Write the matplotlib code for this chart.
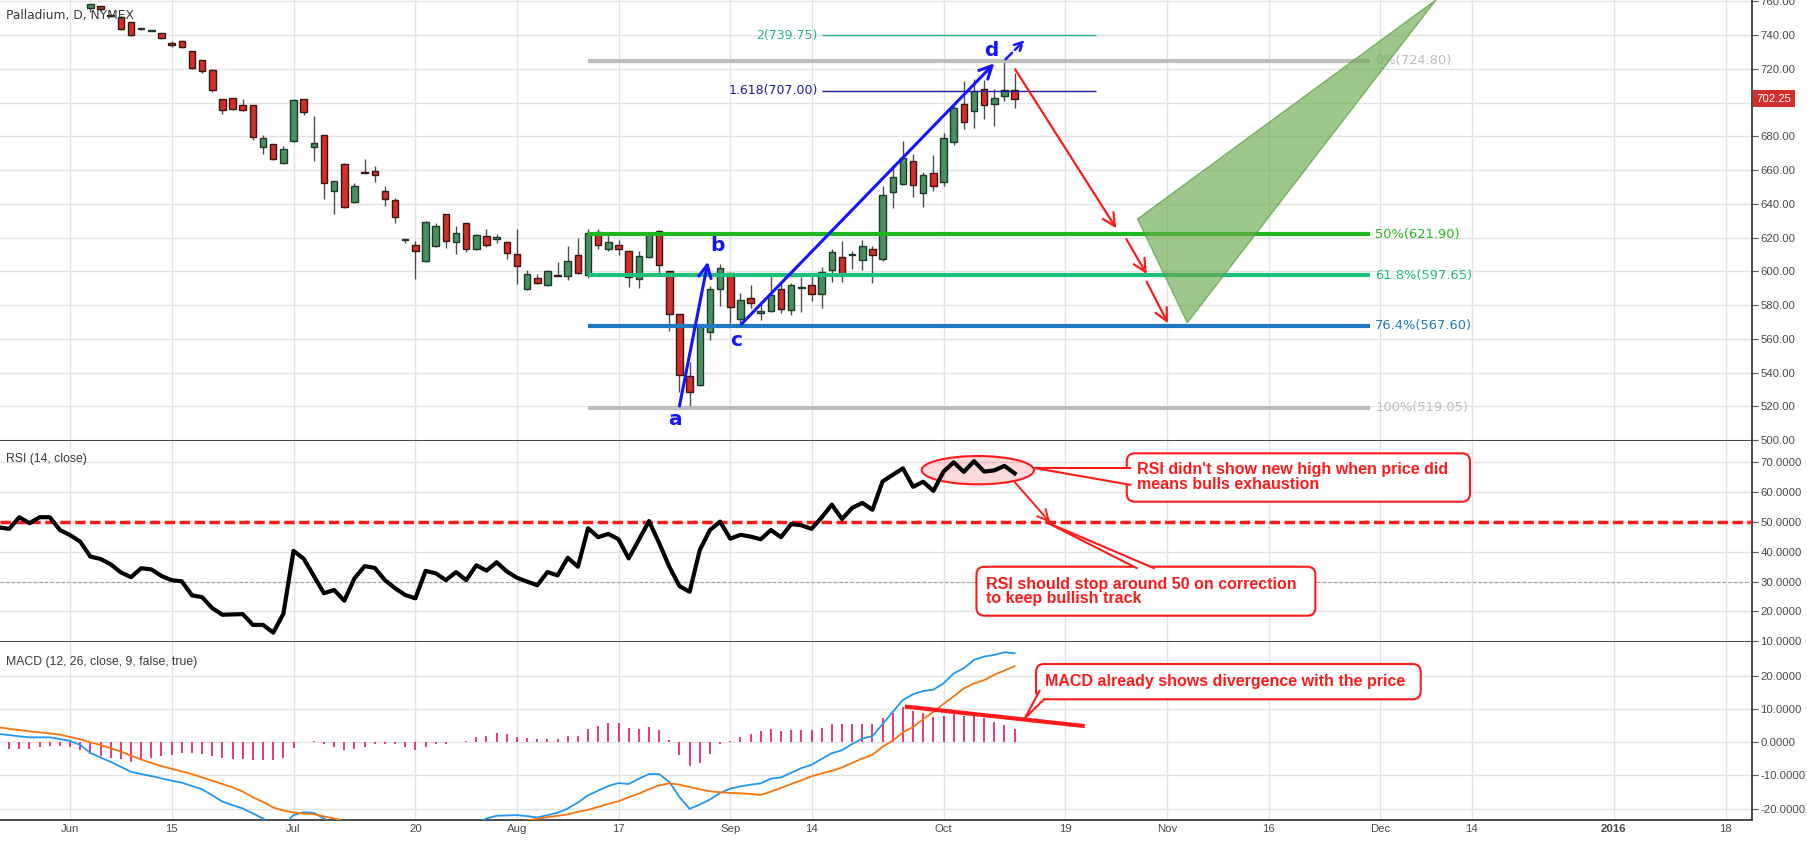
import numpy as np
import matplotlib
matplotlib.use('Agg')
import matplotlib.pyplot as plt
from matplotlib.patches import FancyBboxPatch, Polygon, Ellipse
from matplotlib.transforms import blended_transform_factory

plt.rcParams['axes.unicode_minus'] = False

# ---------------- data ----------------
first_date = '2015-06-01'
holidays = ['2015-07-03', '2015-09-07']

tick_dates = ['2015-06-01', '2015-06-15', '2015-07-01', '2015-07-20', '2015-08-03',
              '2015-08-17', '2015-09-01', '2015-09-14', '2015-10-01', '2015-10-19',
              '2015-11-02', '2015-11-16', '2015-12-01', '2015-12-14', '2016-01-01',
              '2016-01-18']
tick_labels = ['Jun', '15', 'Jul', '20', 'Aug', '17', 'Sep', '14', 'Oct', '19',
               'Nov', '16', 'Dec', '14', '2016', '18']

candle_start = 2  # bar index of the first visible candle (Jun 3)
opens = [755.8, 757.0, 751.8, 750.5, 747.5, 743.3, 742.6, 741.0, 735.1, 736.2,
         730.3, 725.0, 719.1, 701.9, 702.5, 698.4, 698.4, 673.5, 675.2, 664.0,
         677.0, 701.9, 673.5, 680.6, 647.4, 663.4, 640.9, 658.9, 659.2, 647.4,
         642.0, 618.5, 615.4, 605.9, 614.8, 633.8, 617.2, 628.4, 613.0, 620.7,
         618.9, 617.2, 610.1, 589.3, 595.8, 591.7, 597.6, 597.0, 609.5, 598.0,
         623.1, 613.0, 615.4, 611.8, 595.2, 608.3, 623.7, 600.0, 574.5, 537.8,
         532.5, 563.8, 589.3, 598.8, 571.5, 584.0, 575.1, 576.3, 589.3, 576.9,
         590.1, 592.1, 586.7, 601.0, 608.6, 609.9, 606.9, 613.4, 607.5, 646.8,
         651.5, 665.2, 646.2, 658.0, 652.7, 676.4, 698.9, 694.8, 707.8, 698.9,
         703.7, 707.2]
highs = [758.6, 757.4, 752.5, 751.0, 748.0, 743.8, 743.1, 741.2, 736.2, 736.9,
         730.6, 725.3, 719.9, 702.2, 702.8, 702.1, 698.7, 680.7, 675.5, 674.2,
         701.9, 702.2, 692.0, 680.9, 653.6, 664.2, 652.3, 666.5, 662.6, 650.5,
         643.2, 619.0, 618.0, 629.8, 628.6, 634.1, 626.8, 628.7, 621.9, 625.0,
         622.0, 617.5, 625.0, 600.6, 598.4, 600.6, 605.5, 615.0, 619.5, 624.9,
         624.9, 623.1, 618.4, 612.0, 612.0, 623.1, 624.3, 600.3, 574.8, 546.4,
         567.7, 591.1, 604.1, 599.1, 587.0, 591.7, 582.2, 597.6, 594.1, 592.9,
         596.8, 598.0, 602.7, 613.4, 617.7, 612.2, 618.3, 615.2, 650.3, 661.0,
         677.0, 669.3, 658.6, 668.7, 681.7, 699.5, 712.6, 713.8, 713.2, 707.8,
         724.4, 717.3]
lows = [753.8, 754.4, 750.8, 743.0, 739.5, 743.2, 742.5, 737.8, 732.7, 732.5,
        720.0, 717.7, 706.4, 693.4, 695.8, 695.2, 677.6, 669.5, 666.0, 663.8,
        676.8, 692.6, 665.5, 643.0, 634.1, 637.6, 640.6, 658.0, 653.0, 638.9,
        628.8, 617.0, 595.6, 605.6, 614.5, 614.0, 610.4, 611.6, 612.7, 614.6,
        616.6, 607.5, 592.6, 589.0, 592.3, 591.4, 597.0, 595.0, 598.5, 596.2,
        613.0, 611.8, 609.5, 590.5, 589.9, 608.0, 598.2, 564.4, 528.3, 519.2,
        531.9, 559.1, 579.2, 569.2, 569.2, 578.1, 570.9, 576.0, 575.1, 574.0,
        576.0, 582.6, 578.4, 593.8, 593.8, 601.5, 601.0, 593.2, 606.3, 637.3,
        650.9, 643.8, 637.9, 647.4, 650.4, 674.6, 684.5, 685.1, 690.4, 686.3,
        701.1, 697.0]
closes = [758.2, 755.2, 751.2, 743.4, 739.8, 743.6, 742.9, 738.0, 733.9, 732.7,
          720.3, 718.5, 707.2, 695.4, 696.0, 695.4, 679.4, 678.8, 666.3, 672.3,
          701.3, 694.2, 675.8, 652.1, 653.3, 637.9, 650.4, 658.3, 656.9, 642.6,
          631.9, 618.9, 611.8, 629.0, 626.6, 617.8, 622.5, 613.0, 621.3, 615.4,
          620.1, 610.6, 602.9, 598.2, 592.9, 600.0, 597.2, 605.9, 598.8, 622.5,
          615.4, 617.2, 613.0, 596.4, 608.9, 622.5, 603.5, 574.5, 538.4, 528.3,
          567.4, 589.3, 601.8, 578.7, 582.8, 581.0, 576.3, 585.8, 577.5, 591.7,
          590.5, 586.7, 599.8, 611.2, 598.6, 610.3, 615.2, 609.8, 645.0, 655.7,
          666.9, 650.9, 656.9, 650.4, 678.8, 696.6, 688.3, 706.6, 698.4, 702.5,
          707.2, 702.25]
last_price = 702.25

ind_start = -7  # bar index of the first RSI / MACD value
rsi = [48.2, 47.7, 51.6, 49.6, 51.6, 51.6, 47.3, 45.6, 43.4, 38.4,
       37.6, 35.8, 33.1, 31.5, 34.5, 34.1, 31.9, 30.5, 30.1, 25.4,
       24.8, 21.1, 18.9, 19.0, 19.1, 15.5, 15.5, 12.9, 19.2, 40.3,
       37.7, 31.9, 26.1, 27.2, 23.6, 31.1, 35.2, 34.6, 30.5, 27.8,
       25.5, 24.4, 33.6, 32.8, 30.5, 33.2, 30.5, 35.5, 33.7, 36.5,
       33.4, 31.3, 30.0, 28.8, 33.2, 32.1, 38.0, 35.0, 47.9, 44.9,
       46.0, 44.2, 37.8, 44.0, 50.3, 42.9, 35.0, 28.5, 26.6, 40.6,
       47.3, 50.1, 44.4, 45.7, 45.1, 44.2, 47.3, 44.9, 49.3, 48.9,
       47.7, 51.5, 55.8, 51.0, 54.7, 56.4, 54.1, 63.6, 65.8, 68.0,
       61.8, 63.5, 60.4, 66.9, 70.0, 66.8, 70.4, 66.9, 67.3, 68.8,
       66.3]
macd = [2.5, 2.2, 1.8, 1.5, 1.5, 1.5, 1.0, 0.4, -0.8, -3.2,
        -4.6, -5.9, -7.4, -8.9, -9.6, -10.2, -10.9, -11.6, -12.2, -13.2,
        -14.2, -16.0, -17.9, -19.0, -20.0, -21.5, -23.0, -25.0, -25.0, -22.0,
        -21.1, -21.3, -23.0, -25.0, -26.0, -27.0, -27.5, -28.0, -28.5, -29.0,
        -29.5, -30.0, -28.5, -27.5, -27.0, -26.5, -25.5, -24.5, -23.0, -22.2,
        -22.1, -22.0, -22.3, -22.7, -22.0, -21.3, -20.0, -18.2, -16.0, -14.6,
        -13.2, -12.3, -12.6, -11.0, -9.6, -9.6, -12.0, -16.5, -20.1, -18.8,
        -17.3, -15.3, -14.0, -13.3, -12.8, -12.4, -11.0, -10.6, -9.2, -7.8,
        -6.8, -5.0, -3.3, -2.4, -0.5, 1.1, 1.9, 5.5, 9.2, 12.8,
        14.5, 15.5, 15.9, 17.8, 20.8, 22.4, 24.9, 25.9, 26.4, 27.2,
        26.9]
signal = [4.5, 4.1, 3.7, 3.3, 3.0, 2.7, 2.3, 1.6, 0.9, 0.0,
          -0.8, -1.8, -2.8, -4.0, -5.2, -6.2, -7.2, -8.0, -8.8, -9.6,
          -10.6, -11.6, -12.6, -13.6, -14.9, -16.6, -18.0, -19.7, -20.6, -21.2,
          -21.5, -21.7, -22.4, -23.0, -23.8, -24.5, -25.2, -25.8, -26.4, -27.0,
          -27.5, -28.0, -28.2, -28.2, -28.0, -27.6, -27.0, -26.4, -25.7, -25.0,
          -24.4, -24.0, -23.6, -23.1, -22.6, -22.2, -21.8, -21.0, -20.4, -19.5,
          -18.6, -17.8, -16.6, -15.5, -14.2, -13.0, -12.4, -12.8, -13.5, -14.2,
          -14.8, -15.1, -15.3, -15.4, -15.6, -15.9, -14.9, -13.8, -12.6, -11.5,
          -10.3, -9.4, -8.6, -7.6, -6.2, -4.9, -3.8, -1.3, 0.5, 3.0,
          4.6, 7.0, 9.2, 11.6, 13.9, 16.3, 17.8, 18.8, 20.4, 21.7,
          23.0]
hist_start = -6
hist = [-2.1, -2.1, -1.9, -1.5, -1.1, -1.1, -1.5, -2.3, -3.6, -4.1,
        -4.8, -5.1, -5.8, -5.3, -4.8, -4.1, -3.8, -3.1, -3.3, -3.6,
        -4.1, -4.8, -5.1, -5.1, -5.3, -5.3, -5.3, -4.6, -1.8, 0.2,
        0.5, -0.6, -1.3, -2.3, -2.1, -1.3, -0.5, -0.5, -0.6, -1.5,
        -2.3, -1.3, -0.6, -0.5, 0.2, 0.5, 1.7, 1.9, 2.9, 2.5,
        1.7, 1.4, 0.9, 1.0, 1.1, 1.9, 1.9, 4.0, 4.9, 5.7,
        5.7, 4.2, 4.1, 4.5, 3.7, 0.7, -3.8, -7.2, -6.3, -3.5,
        -0.5, 0.4, 1.5, 2.5, 3.5, 3.9, 3.5, 3.7, 3.7, 3.7,
        4.2, 5.5, 5.5, 5.5, 5.5, 5.5, 7.3, 9.0, 10.8, 9.6,
        8.8, 7.6, 7.8, 8.6, 8.0, 8.0, 7.2, 6.2, 5.2, 3.9]

fib_levels = [724.80, 621.90, 597.65, 567.60, 519.05]
fib_names = ['0%', '50%', '61.8%', '76.4%', '100%']
fib_colors = ['#bdbdbd', '#1fb81f', '#1fbf7c', '#1f78c1', '#bdbdbd']
ext_levels = [739.75, 707.00]
ext_names = ['2', '1.618']
ext_colors = ['#27b47c', '#1c1c9c']

wave_names = ['a', 'b', 'c', 'd']
wave_x = [59.6, 63.7, 65.6, 90.7]
wave_y = [512.3, 615.0, 558.9, 730.7]

# ---------------- layout ----------------
W, H = 1807, 841
fig = plt.figure(figsize=(W / 100, H / 100), dpi=100, facecolor='white')
right = 1752 / W
ax1 = fig.add_axes([0, 1 - 441 / H, right, 441 / H])
ax2 = fig.add_axes([0, 1 - 641.5 / H, right, 200.5 / H])
ax3 = fig.add_axes([0, 1 - 820 / H, right, 178.5 / H])

tick_idx = np.busday_count(first_date, tick_dates, holidays=holidays)
axis_font = 'Liberation Sans'
axis_size = 8.2
red = '#ff1a1a'
blue = '#1414ff'

for ax in (ax1, ax2, ax3):
    ax.set_xlim(-6.9, 165.6)
    for s in ('top', 'left'):
        ax.spines[s].set_visible(False)
    for s in ('right', 'bottom'):
        ax.spines[s].set_color('#3c3c3c')
        ax.spines[s].set_linewidth(1.3)
    ax.yaxis.tick_right()
    ax.set_xticks(tick_idx)
    ax.grid(True, color='#e2e2e2', lw=1)
    ax.set_axisbelow(True)
    ax.tick_params(axis='y', direction='out', length=4, width=0.8, color='#555555',
                   labelsize=axis_size, labelcolor='#4a4a4a', pad=2)
    ax.tick_params(axis='x', length=0, labelbottom=False)

# ---------------- price panel ----------------
ax1.set_ylim(499.45, 760.74)
price_ticks = np.arange(500, 761, 20)
ax1.set_yticks(price_ticks)
# the 700.00 label sits under the last-price marker, as in the original
ax1.set_yticklabels(['' if t == 700 else f'{t:.2f}' for t in price_ticks],
                    fontfamily=axis_font)

idx = np.arange(candle_start, candle_start + len(opens))
o, hi, lo, c = (np.array(v) for v in (opens, highs, lows, closes))
up = c >= o
body_lo = np.minimum(o, c)
body_h = np.maximum(np.abs(c - o), 0.6)
ax1.vlines(idx, lo, hi, color='#4d4d4d', lw=1, zorder=3)
ax1.bar(idx[up], body_h[up], bottom=body_lo[up], width=0.64, color='#4a8f62',
        edgecolor='#1b3a26', lw=1, zorder=3.5)
ax1.bar(idx[~up], body_h[~up], bottom=body_lo[~up], width=0.64, color='#d12f28',
        edgecolor='#3a1410', lw=1, zorder=3.5)

ax1.text(0.0037, 1 - 15.3 / 441, 'Palladium, D, NYMEX', transform=ax1.transAxes,
         fontsize=8.8, color='#3a3a3a', va='center', ha='left', zorder=10)

for lev, name, col in zip(fib_levels, fib_names, fib_colors):
    ax1.hlines(lev, 51, 128, color=col, lw=3, zorder=4)
    ax1.text(128.5, lev, f'{name}({lev:.2f})', color=col, fontsize=9.4,
             va='center', ha='left', zorder=4)
for lev, name, col in zip(ext_levels, ext_names, ext_colors):
    ax1.hlines(lev, 74, 101, color=col, lw=1, zorder=4)
    ax1.text(73.6, lev, f'{name}({lev:.2f})', color=col, fontsize=9,
             va='center', ha='right', zorder=4)

ax1.add_patch(Polygon([(105.1, 631), (110, 569.5), (134.5, 760.9)], closed=True,
                      fc='#6aaa4f', alpha=0.65, ec='#4e9a3a', lw=1, zorder=5))


def arrow(ax, start, end, color, lw, ls='-', hl=0.9, hw=0.45):
    ax.annotate('', xy=end, xytext=start, annotation_clip=False,
                arrowprops=dict(arrowstyle=f'->,head_length={hl},head_width={hw}',
                                color=color, lw=lw, ls=ls, shrinkA=0, shrinkB=0),
                zorder=6)


arrow(ax1, (60.0, 520.2), (62.8, 605.7), blue, 2.2)
arrow(ax1, (66.1, 568.7), (91.0, 723.2), blue, 2.2)
arrow(ax1, (92.1, 725.6), (94.0, 737.0), blue, 1.8, ls='--', hl=0.6, hw=0.3)
arrow(ax1, (93.05, 719.7), (103.0, 625.5), red, 1.6)
arrow(ax1, (104.0, 619.0), (106.0, 598.4), red, 1.6)
arrow(ax1, (106.0, 593.8), (108.1, 569.2), red, 1.6)

for name, x, y in zip(wave_names, wave_x, wave_y):
    ax1.text(x, y, name, color=blue, fontsize=14.5, fontweight='bold',
             ha='center', va='center', zorder=7)

ax1.annotate(f'{last_price:.2f}', xy=(1, last_price),
             xycoords=blended_transform_factory(ax1.transAxes, ax1.transData),
             xytext=(3.2, 0), textcoords='offset points', annotation_clip=False,
             ha='left', va='center', color='white', fontsize=axis_size, family=axis_font,
             bbox=dict(boxstyle='square,pad=0.3', fc='#d32f2f', ec='none'), zorder=10)

# ---------------- RSI panel ----------------
ax2.set_ylim(9.93, 77.15)
rsi_ticks = np.arange(10, 71, 10)
ax2.set_yticks(rsi_ticks)
ax2.set_yticklabels([f'{t:.4f}' for t in rsi_ticks], fontfamily=axis_font)
ind_idx = np.arange(ind_start, ind_start + len(rsi))
ax2.plot(ind_idx, rsi, color='black', lw=3, zorder=3)
ax2.axhline(50, color=red, lw=2.5, dashes=(3, 1.3), zorder=2.6)
ax2.axhline(30, color='#9e9e9e', lw=0.8, dashes=(3, 2), zorder=2.6)
ax2.text(0.0033, 1 - 18 / 200.5, 'RSI (14, close)', transform=ax2.transAxes,
         fontsize=8.8, family=axis_font, color='#3a3a3a', va='center')

ax2.add_patch(Ellipse((89.38, 67.37), 11.06, 9.49, fc=(1, 0, 0, 0.15), ec=red,
                      lw=1.5, zorder=2.8))
arrow(ax2, (93.05, 63.2), (96.5, 49.8), red, 1.4, hl=0.8, hw=0.4)


def callout(ax, box, wedge, text_xy, text, aspect):
    x0, y0, w, h = box
    ax.add_patch(FancyBboxPatch((x0, y0), w, h,
                                boxstyle='round,pad=0,rounding_size=0.8',
                                mutation_aspect=aspect, fc='white', ec=red,
                                lw=1.5, zorder=8, clip_on=False))
    ax.add_patch(Polygon(wedge, closed=False, fc='white', ec=red, lw=1.5,
                         zorder=8.5, clip_on=False))
    ax.text(text_xy[0], text_xy[1], text, color=red, fontsize=11.5,
            family='Liberation Sans', fontweight='bold', ha='left', va='center',
            linespacing=0.98, zorder=9)


callout(ax2, (104.04, 56.8, 33.79, 16.22),
        [(104.5, 68.1), (94.92, 68.1), (104.5, 62.4)], (105.07, 65.0),
        "RSI didn't show new high when price did\nmeans bulls exhaustion", 3.405)
callout(ax2, (89.24, 18.58, 33.37, 16.42),
        [(105.1, 34.4), (96.0, 50.1), (106.8, 34.4)], (90.15, 26.7),
        "RSI should stop around 50 on correction\nto keep bullish track", 3.405)

# ---------------- MACD panel ----------------
ax3.set_ylim(-23.47, 30.45)
macd_ticks = np.arange(-20, 21, 10)
ax3.set_yticks(macd_ticks)
ax3.set_yticklabels([f'{t:.4f}' for t in macd_ticks], fontfamily=axis_font)
hist_idx = np.arange(hist_start, hist_start + len(hist))
ax3.vlines(hist_idx, 0, hist, color='#e8175d', lw=1.2, zorder=3)
ax3.plot(ind_idx, macd, color='#2196f3', lw=1.3, zorder=4)
ax3.plot(ind_idx, signal, color='#f7740f', lw=1.3, zorder=4)
ax3.plot([82.2, 99.9], [10.8, 4.9], color=red, lw=3, zorder=5,
         solid_capstyle='butt')
ax3.text(0.0033, 1 - 21 / 178.5, 'MACD (12, 26, close, 9, false, true)',
         transform=ax3.transAxes, fontsize=8.8, family=axis_font,
         color='#3a3a3a', va='center')
callout(ax3, (95.11, 13.0, 37.87, 10.65),
        [(95.5, 15.8), (94.0, 7.25), (96.0, 13.3)], (96.0, 18.3),
        'MACD already shows divergence with the price', 3.068)

ax3.tick_params(axis='x', labelbottom=True, labelsize=axis_size,
                labelcolor='#4a4a4a', pad=3)
ax3.set_xticklabels(tick_labels, fontfamily=axis_font)
for lbl in ax3.get_xticklabels():
    if lbl.get_text() == '2016':
        lbl.set_fontweight('bold')

fig.savefig('out.png', dpi=100, facecolor='white')
